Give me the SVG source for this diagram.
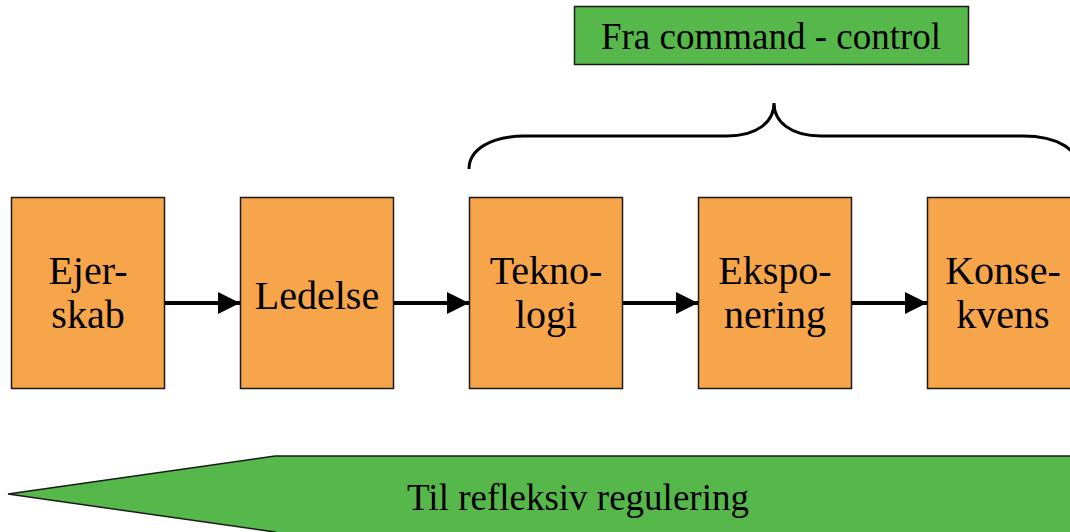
<svg xmlns="http://www.w3.org/2000/svg" width="1070" height="532" viewBox="0 0 1070 532">
<style>
.box{fill:#F7A54A;stroke:#1a1a1a;stroke-width:1.5}
.green{fill:#56B84B;stroke:#1a1a1a;stroke-width:1.5}
.t{font-family:"Liberation Serif",serif;font-size:37px;fill:#000;text-anchor:middle}
.b{font-size:40px}
.conn{stroke:#000;stroke-width:4;fill:none;marker-end:url(#ah)}
</style>
<defs>
<marker id="ah" viewBox="0 0 10 10" refX="10" refY="5" markerWidth="5.5" markerHeight="5.5" markerUnits="strokeWidth" orient="auto">
<path d="M0,0 L10,5 L0,10 Z" fill="#000"/>
</marker>
</defs>
<rect width="1070" height="532" fill="#fff"/>
<g id="header">
<rect class="green" x="574.5" y="6.5" width="394" height="58"/>
<text class="t" x="771" y="49">Fra command - control</text>
</g>
<g id="brace">
<path d="M469,169 C469,150 490,136 525,136 L727,136 C757,136 774,122 774,103 C774,122 791,136 821,136 L1023,136 C1058,136 1079,150 1079,169" fill="none" stroke="#000" stroke-width="3"/>
</g>
<g id="connectors">
<line class="conn" x1="164" y1="303" x2="240" y2="303"/>
<line class="conn" x1="393" y1="303" x2="469" y2="303"/>
<line class="conn" x1="622" y1="303" x2="698" y2="303"/>
<line class="conn" x1="851" y1="303" x2="927" y2="303"/>
</g>
<g id="ejerskab">
<rect class="box" x="11.5" y="197.5" width="153" height="191"/>
<text class="t b" x="88" y="284">Ejer-</text>
<text class="t b" x="88" y="328">skab</text>
</g>
<g id="ledelse">
<rect class="box" x="240.5" y="197.5" width="153" height="191"/>
<text class="t b" x="317" y="309">Ledelse</text>
</g>
<g id="teknologi">
<rect class="box" x="469.5" y="197.5" width="153" height="191"/>
<text class="t b" x="546" y="284">Tekno-</text>
<text class="t b" x="546" y="328">logi</text>
</g>
<g id="eksponering">
<rect class="box" x="698.5" y="197.5" width="153" height="191"/>
<text class="t b" x="775" y="284">Ekspo-</text>
<text class="t b" x="775" y="328">nering</text>
</g>
<g id="konsekvens">
<rect class="box" x="927.5" y="197.5" width="153" height="191"/>
<text class="t b" x="1003" y="284">Konse-</text>
<text class="t b" x="1003" y="328">kvens</text>
</g>
<g id="reflexive">
<path class="green" d="M8,494 L275,456 L1080,456 L1080,540 L275,540 L275,532 Z" />
<text class="t" x="578" y="510">Til refleksiv regulering</text>
</g>
</svg>
